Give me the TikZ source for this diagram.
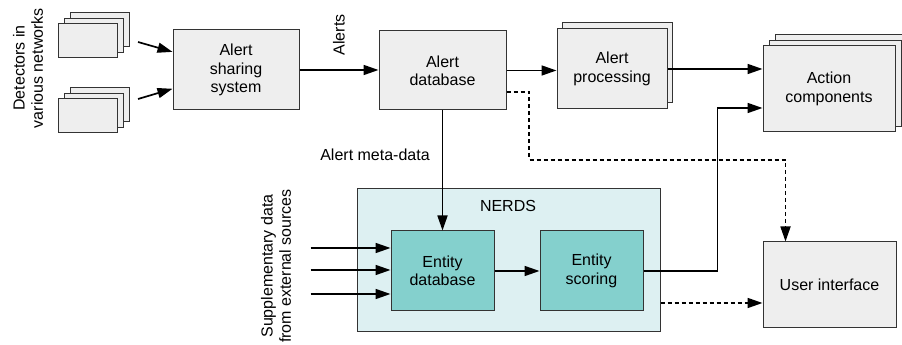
\documentclass[tikz,border=0pt]{standalone}
\usepackage{fontspec}
\setmainfont{Liberation Sans}
\usetikzlibrary{arrows.meta,shadows}

\definecolor{boxgrey}{HTML}{EEEEEE}
\definecolor{nerdsbg}{HTML}{DDF0F2}
\definecolor{entteal}{HTML}{84D0CD}
\definecolor{edgegrey}{HTML}{333333}

\begin{document}
\begin{tikzpicture}[x=1pt,y=1pt,->,>={Triangle[length=15pt,width=10pt]},line width=1.7pt,
  font=\fontsize{16pt}{18.3pt}\selectfont,
  box/.style={draw=edgegrey,fill=boxgrey,line width=1pt,align=center,inner sep=0pt},
  pair/.style={copy shadow={shadow xshift=5pt,shadow yshift=6pt}},
  stack/.style={double copy shadow={shadow xshift=6pt,shadow yshift=5.5pt}},
  hint/.style={dash pattern=on 4pt off 3pt}]
 %\tikzstyle{every node}=[draw=none]
 \useasboundingbox (0,0) rectangle (902,345);

 \node[box,stack,minimum width=59pt,minimum height=34pt] (det1) at (87.5,304) {};
 \node[box,stack,minimum width=59pt,minimum height=34pt] (det2) at (87.5,229) {};
 \node[rotate=90,align=center] (detlbl) at (28,277) {Detectors in\\various networks};

 \node[box,minimum width=126pt,minimum height=80pt] (share)   at (236,275)   {Alert\\sharing\\system};
 \node[box,minimum width=127pt,minimum height=79pt] (alertdb) at (442.5,274.5) {Alert\\database};
 \node[box,pair,minimum width=110pt,minimum height=80pt] (proc) at (612,276) {Alert\\processing};
 \node[box,stack,minimum width=132pt,minimum height=86pt] (action) at (829,256) {Action\\components};
 \node[box,minimum width=133pt,minimum height=86pt] (ui) at (829.5,60) {User interface};

 \node[box,fill=nerdsbg,minimum width=303pt,minimum height=143pt] (nerds) at (508.5,84.5) {};
 \node (nerdslbl) at (508,139) {NERDS};
 \node[box,fill=entteal,minimum width=103pt,minimum height=80pt] (entdb)    at (442.5,74) {Entity\\database};
 \node[box,fill=entteal,minimum width=103pt,minimum height=80pt] (entscore) at (591.5,74) {Entity\\scoring};

 \node[rotate=90] (alertslbl) at (339,310) {Alerts};
 \node (metalbl) at (375,190) {Alert meta-data};
 \node[rotate=90,align=center] (supplbl) at (276,79) {Supplementary data\\from external sources};

 \coordinate (d1out) at (138,303);
 \coordinate (d2out) at (138,246);
 \coordinate (actin) at ([yshift=-19pt]action.west);
 \coordinate (uiin)  at ([yshift=-18pt]ui.west);

 \draw (d1out) -- (share);
 \draw (d2out) -- (share);
 \draw (share.east) -- (share.east -| alertdb.west);
 \draw (alertdb.east) -- (alertdb.east -| proc.west);
 \draw (proc.east) -- (proc.east -| action.west);
 \draw (alertdb) -- (entdb);
 \draw (entdb) -- (entscore);
 \draw (entscore.east) -| ([xshift=-45pt]actin) -- (actin);
 \foreach \dy in {23,1,-23}
   \draw ([shift={(-80pt,\dy pt)}]entdb.west) -- ([yshift=\dy pt]entdb.west);

 \draw[hint] ([yshift=-21.5pt]alertdb.east) -| (529,185) -| ([xshift=23pt]ui.north west);
 \draw[hint] (nerds.east |- uiin) -- (uiin);
\end{tikzpicture}
\end{document}
